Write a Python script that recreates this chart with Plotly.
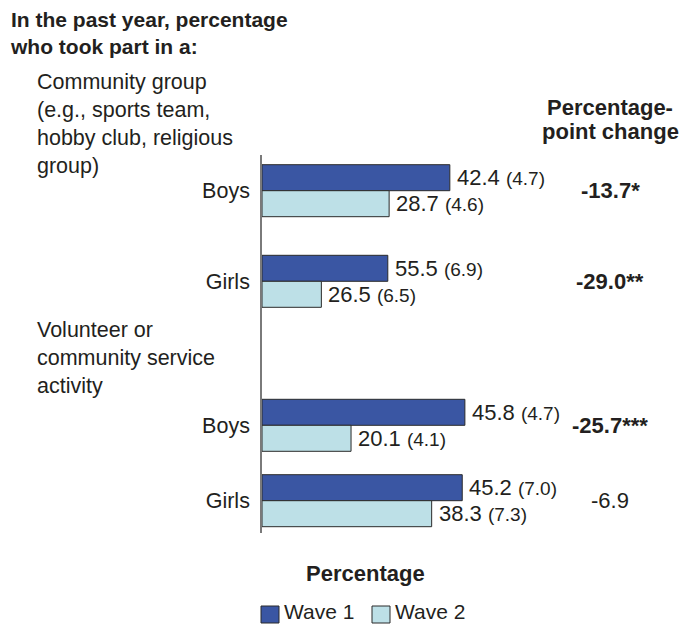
import plotly.graph_objects as go

# ---------------- data ----------------
activities = ["Community group<br>(e.g., sports team,<br>hobby club, religious<br>group)",
              "Volunteer or<br>community service<br>activity"]
sex = ["Boys", "Girls", "Boys", "Girls"]
wave1 = [42.4, 55.5, 45.8, 45.2]
wave1_se = [4.7, 6.9, 4.7, 7.0]
wave2 = [28.7, 26.5, 20.1, 38.3]
wave2_se = [4.6, 6.5, 4.1, 7.3]
# bar lengths as drawn in the reference (girls' community-group bars are drawn
# at roughly half of their labelled value in the source graphic)
wave1_drawn = [42.4, 28.4, 45.8, 45.2]
wave2_drawn = [28.7, 13.4, 20.1, 38.3]
change = [-13.7, -29.0, -25.7, -6.9]
stars = ["*", "**", "***", ""]
series_names = ["Wave 1", "Wave 2"]

# ---------------- layout constants ----------------
W_FIG, H_FIG = 680, 624
L, R, T, B = 262, 20, 155, 91
PW, PH = W_FIG - L - R, H_FIG - T - B
BOTTOM = H_FIG - B
row_y = [190.7, 281.3, 425.3, 500.7]   # vertical centres of the four bar pairs (pixel units)
BAR_H = 26
FONT = "Arial, Liberation Sans, Helvetica, sans-serif"
TXT = "#231f20"
C1, C2 = "#3a56a3", "#bde0e7"
EDGE = "#2a2a2a"
X_MAX = PW / 4.43


def px(xp):
    return (xp - L) / PW


def py(yp):
    return (BOTTOM - yp) / PH


fig = go.Figure()
fig.add_trace(go.Bar(
    y=row_y, x=wave1_drawn, orientation="h", name=series_names[0],
    width=BAR_H, offset=-BAR_H,
    marker=dict(color=C1, line=dict(color=EDGE, width=1)),
    hoverinfo="skip", showlegend=False))
fig.add_trace(go.Bar(
    y=row_y, x=wave2_drawn, orientation="h", name=series_names[1],
    width=BAR_H, offset=0,
    marker=dict(color=C2, line=dict(color=EDGE, width=1)),
    hoverinfo="skip", showlegend=False))

ann = []
# value labels
for i in range(4):
    for vals, drawn, ses, dy in ((wave1, wave1_drawn, wave1_se, -BAR_H / 2),
                                 (wave2, wave2_drawn, wave2_se, BAR_H / 2)):
        ann.append(dict(
            x=drawn[i], y=row_y[i] + dy, xref="x", yref="y",
            xanchor="left", yanchor="middle", xshift=5, showarrow=False,
            text=f"{vals[i]:.1f} <span style='font-size:19px'>({ses[i]:.1f})</span>",
            font=dict(size=22, color=TXT, family=FONT)))
    # percentage-point change
    if stars[i]:
        txt = f"<b>{change[i]:.1f}{stars[i]}</b>"
    else:
        txt = f"{change[i]:.1f}"
    ann.append(dict(x=px(610), y=row_y[i], xref="paper", yref="y",
                    xanchor="center", yanchor="middle", showarrow=False,
                    text=txt, font=dict(size=22, color=TXT, family=FONT)))

# titles / headers
ann.append(dict(x=px(8), y=py(33), xref="paper", yref="paper", xanchor="left",
                yanchor="middle", align="left", showarrow=False,
                text="<b>In the past year, percentage<br>who took part in a:</b>",
                font=dict(size=21, color=TXT, family=FONT)))
ann.append(dict(x=px(35), y=py(124), xref="paper", yref="paper", xanchor="left",
                yanchor="middle", align="left", showarrow=False,
                text=activities[0], font=dict(size=21.5, color=TXT, family=FONT)))
ann.append(dict(x=px(35), y=py(358), xref="paper", yref="paper", xanchor="left",
                yanchor="middle", align="left", showarrow=False,
                text=activities[1], font=dict(size=21.5, color=TXT, family=FONT)))
for yy, t in ((107, "<b>Percentage-</b>"), (131, "<b>point change</b>")):
    ann.append(dict(x=px(610), y=py(yy), xref="paper", yref="paper", xanchor="center",
                    yanchor="middle", showarrow=False, text=t,
                    font=dict(size=22, color=TXT, family=FONT)))
ann.append(dict(x=px(365), y=py(573), xref="paper", yref="paper", xanchor="center",
                yanchor="middle", showarrow=False, text="<b>Percentage</b>",
                font=dict(size=22, color=TXT, family=FONT)))

# legend (drawn manually for square swatches)
shapes = []
for x0, col, name in ((261, C1, series_names[0]), (372, C2, series_names[1])):
    shapes.append(dict(type="rect", xref="paper", yref="paper",
                       x0=px(x0), x1=px(x0 + 18), y0=py(623), y1=py(606),
                       fillcolor=col, line=dict(color=EDGE, width=1)))
    ann.append(dict(x=px(x0 + 22), y=py(611), xref="paper", yref="paper",
                    xanchor="left", yanchor="middle", showarrow=False, text=name,
                    borderpad=0, font=dict(size=21, color=TXT, family=FONT)))

fig.update_layout(
    width=W_FIG, height=H_FIG,
    margin=dict(l=L, r=R, t=T, b=B, pad=0),
    paper_bgcolor="white", plot_bgcolor="white",
    barmode="overlay", showlegend=False,
    annotations=ann, shapes=shapes,
    xaxis=dict(range=[0, X_MAX], visible=False, fixedrange=True),
    yaxis=dict(range=[BOTTOM, T], tickvals=row_y, ticktext=sex,
               showline=True, linecolor="#7a7a7a", linewidth=1.6,
               showgrid=False, zeroline=False, ticks="outside", ticklen=6,
               tickcolor="rgba(0,0,0,0)", automargin=False,
               tickfont=dict(size=21.5, color=TXT, family=FONT), fixedrange=True),
)

fig.write_html("out.html")
